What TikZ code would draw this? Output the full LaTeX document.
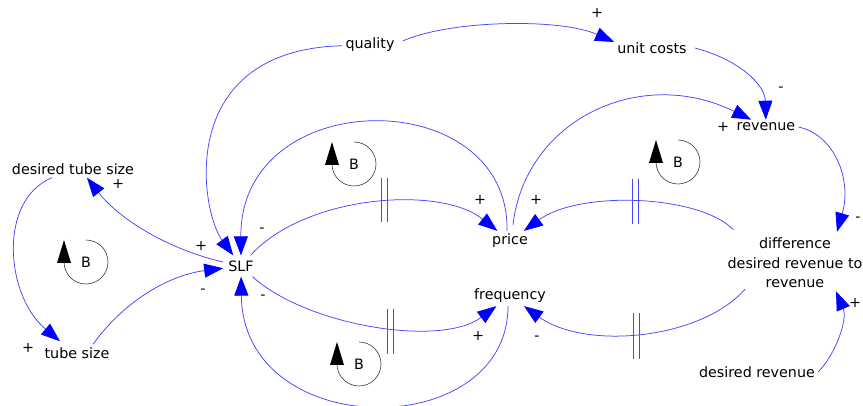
\documentclass[tikz,border=0pt]{standalone}
\usepackage{fontspec}
\setmainfont{DejaVu Sans}
\usetikzlibrary{arrows.meta}
\definecolor{linkblue}{RGB}{70,70,255}
\definecolor{tipblue}{RGB}{0,0,255}
\definecolor{loopgray}{RGB}{60,60,60}
\tikzset{
  loopB/.pic={
    \draw[loopline] (0,-22) arc[start angle=-90,end angle=180,radius=22];
    \fill[black] (-29,1) -- (-15,1) -- (-22,-22) -- cycle;
    \node[inner sep=0pt] (-B) {B};
  }
}
\begin{document}
\begin{tikzpicture}[x=1pt,y=-1pt,
  every node/.style={font=\fontsize{14.3}{19.5}\selectfont, text=black},
  var/.style={inner sep=3pt},
  pol/.style={inner sep=0pt},
  link/.style={draw=linkblue, line width=0.75pt, -{Triangle[length=19pt,width=14pt,color=tipblue]}},
  delayline/.style={draw=linkblue, line width=0.75pt},
  loopline/.style={draw=loopgray, line width=0.6pt},
]
\useasboundingbox (0,0) rectangle (863,406);
\fill[white] (0,0) rectangle (863,406);

% variables
\node[var] (quality) at (370,45) {quality};
\node[var] (ucost) at (652,48) {unit costs};
\node[var] (revenue) at (766,127) {revenue};
\node[var] (dts) at (73,169) {desired tube size};
\node[var] (ts) at (77,353) {tube size};
\node[var,inner sep=5pt] (SLF) at (241,266) {SLF};
\node[var] (price) at (510,241) {price};
\node[var] (freq) at (510,296) {frequency};
\node[var,align=center] (diff) at (795,263) {difference\\desired revenue to\\revenue};
\node[var] (drev) at (757,372) {desired revenue};

% polarities
\node[pol] (p1) at (597,13) {+};
\node[pol] (p2) at (781,89) {-};
\node[pol] (p3) at (723,127) {+};
\node[pol] (p4) at (118,184) {+};
\node[pol] (p5) at (201,246) {+};
\node[pol] (p6) at (262,230) {-};
\node[pol] (p7) at (203,291) {-};
\node[pol] (p8) at (263,297) {-};
\node[pol] (p9) at (480,200) {+};
\node[pol] (p10) at (536,200) {+};
\node[pol] (p11) at (478,336) {+};
\node[pol] (p12) at (537,338) {-};
\node[pol] (p13) at (28,348) {+};
\node[pol] (p14) at (855,303) {+};
\node[pol] (p15) at (858,219) {-};

% connectors
\draw[link] (quality) .. controls (175,50) and (200,210) .. (SLF);
\draw[link] ([xshift=-3pt]price.north) .. controls (510,83) and (240,83) .. (SLF);
\draw[link] (SLF) .. controls (305,195) and (440,185) .. (price);
\draw[link] ([xshift=9pt,yshift=5pt]diff.north west) .. controls (700,195) and (580,190) .. (price);
\draw[link] ([xshift=3pt,yshift=6pt]price.north) .. controls (525,120) and (640,65) .. (revenue);
\draw[link] ([xshift=5pt]ucost.east) .. controls (740,60) and (765,85) .. (revenue);
\draw[link] ([xshift=5pt,yshift=4pt]quality.east) .. controls (450,20) and (560,18) .. ([yshift=6pt]ucost.west);
\draw[link] (revenue.east) .. controls (835,135) and (852,180) .. ([xshift=42pt,yshift=3pt]diff.north);
\draw[link] (drev.east) .. controls (835,355) and (848,320) .. ([xshift=41pt]diff.south);
\draw[link] ([xshift=-50pt,yshift=2pt]diff.south) .. controls (700,340) and (585,350) .. (freq);
\draw[link] (SLF) .. controls (305,325) and (440,348) .. (freq);
\draw[link] ([xshift=-2pt]freq.south) .. controls (508,443) and (243,443) .. (SLF);
\draw[link] (SLF) .. controls (170,250) and (120,220) .. ([xshift=14pt]dts.south);
\draw[link] (dts) .. controls (-2,200) and (5,295) .. ([xshift=-17pt,yshift=3pt]ts.north);
\draw[link] ([xshift=16pt]ts.north) .. controls (125,300) and (170,275) .. (SLF);

% delay marks
\draw[delayline] (381,178) -- (381,222) (387,178) -- (387,222);
\draw[delayline] (632,179) -- (632,224) (638,179) -- (638,224);
\draw[delayline] (387,309) -- (387,354) (393,309) -- (393,354);
\draw[delayline] (633,313) -- (633,359) (639,313) -- (639,359);

% loop markers
\pic (L1) at (86,262) {loopB};
\pic (L2) at (354,164) {loopB};
\pic (L3) at (678,162) {loopB};
\pic (L4) at (359,364) {loopB};
\end{tikzpicture}
\end{document}
